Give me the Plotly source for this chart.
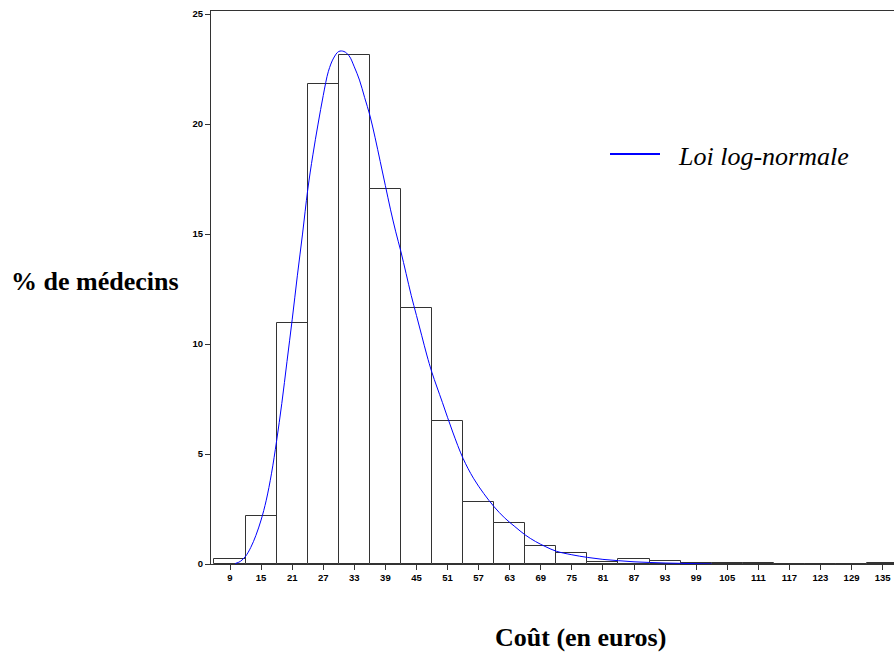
import plotly.graph_objects as go

# Histogram: bin centres (euros) and % of doctors
bin_centers = [9, 15, 21, 27, 33, 39, 45, 51, 57, 63, 69, 75, 81, 87, 93, 99, 105, 111, 117, 123, 129, 135]
pct_doctors = [0.22, 2.2, 10.95, 21.8, 23.15, 17.05, 11.62, 6.52, 2.83, 1.85, 0.83, 0.52, 0.07, 0.24, 0.13,
               0.04, 0.04, 0.04, 0.0, 0.0, 0.0, 0.05]
bin_width = 6

# Fitted log-normal curve
curve_x = [10, 11, 12, 13, 14, 15, 16, 17, 18, 19, 20, 21, 22, 23, 24, 25, 26, 27, 28, 29, 30, 31, 32, 33,
           34, 35, 36, 37, 38, 39, 40, 41, 42, 43, 44, 45, 46, 47, 48, 50, 52, 54, 56, 58, 60, 62, 64, 66,
           68, 70, 72, 75, 78, 81, 84, 87, 90, 93, 96, 99, 102]
curve_y = [0.02, 0.12, 0.35, 0.75, 1.3, 2.0, 2.9, 4.1, 5.6, 7.3, 9.2, 11.1, 13.1, 15.0, 17.0, 18.6, 20.0,
           21.3, 22.4, 23.0, 23.3, 23.3, 23.1, 22.6, 22.0, 21.2, 20.4, 19.4, 18.3, 17.2, 16.1, 15.1, 14.2,
           13.2, 12.2, 11.3, 10.4, 9.5, 8.7, 7.35, 6.0, 4.8, 3.9, 3.2, 2.6, 2.1, 1.7, 1.32, 1.02, 0.78,
           0.58, 0.42, 0.30, 0.21, 0.15, 0.10, 0.07, 0.045, 0.03, 0.015, 0.0]
curve_name = "Loi log-normale"

x_ticks = bin_centers
y_ticks = [0, 5, 10, 15, 20, 25]

fig = go.Figure()
fig.add_trace(go.Bar(
    x=bin_centers, y=pct_doctors, width=bin_width,
    marker=dict(color="white", line=dict(color="#333333", width=1)),
    showlegend=False, hoverinfo="skip",
))
fig.add_trace(go.Scatter(
    x=curve_x, y=curve_y, mode="lines", line=dict(color="#0000ff", width=1, shape="spline"),
    name=curve_name, showlegend=False,
))

# body margin is removed in the page, so figure pixels == reference pixels
W, H = 894, 655
L, R, T, B = 211, 0, 11, 655 - 564
pw, ph = W - L - R, H - T - B

def px(xp):
    return (xp - L) / pw

def py(yp):
    return (H - B - yp) / ph

tick_font = dict(family="Liberation Sans", size=9.5, color="black", weight="bold")
title_font = dict(family="Liberation Serif", size=26, color="black")

fig.update_layout(
    width=W, height=H,
    margin=dict(l=L, r=R, t=T, b=B),
    paper_bgcolor="white", plot_bgcolor="white",
    bargap=0,
    showlegend=False,
    xaxis=dict(
        range=[5.33, 137.2], tickmode="array", tickvals=x_ticks, ticktext=[str(v) for v in x_ticks],
        showline=True, linecolor="#333333", linewidth=1, mirror=True,
        ticks="outside", ticklen=5, tickcolor="#333333",
        showgrid=False, zeroline=False, tickfont=tick_font,
    ),
    yaxis=dict(
        range=[0, 25.14], tickmode="array", tickvals=y_ticks, ticktext=[str(v) for v in y_ticks],
        showline=True, linecolor="#333333", linewidth=1,
        ticks="outside", ticklen=5, tickcolor="#333333",
        showgrid=False, zeroline=False, tickfont=tick_font,
    ),
    shapes=[
        dict(type="line", xref="paper", yref="paper", x0=px(610), x1=px(660), y0=py(154), y1=py(154),
             line=dict(color="#0000ff", width=2)),
    ],
    annotations=[
        dict(text=curve_name, xref="paper", yref="paper", x=px(676), y=py(156),
             xanchor="left", yanchor="middle", showarrow=False,
             font=dict(family="Liberation Serif", size=26, color="black", style="italic")),
        dict(text="<b>% de médecins</b>", xref="paper", yref="paper", x=px(9), y=py(281),
             xanchor="left", yanchor="middle", showarrow=False, font=title_font),
        dict(text="<b>Coût (en euros)</b>", xref="paper", yref="paper", x=px(493), y=py(637),
             xanchor="left", yanchor="middle", showarrow=False, font=title_font),
    ],
)

fig.write_html(
    "out.html",
    config={"displayModeBar": False},
    post_script="document.body.style.margin='0';document.body.style.overflow='hidden';",
)
